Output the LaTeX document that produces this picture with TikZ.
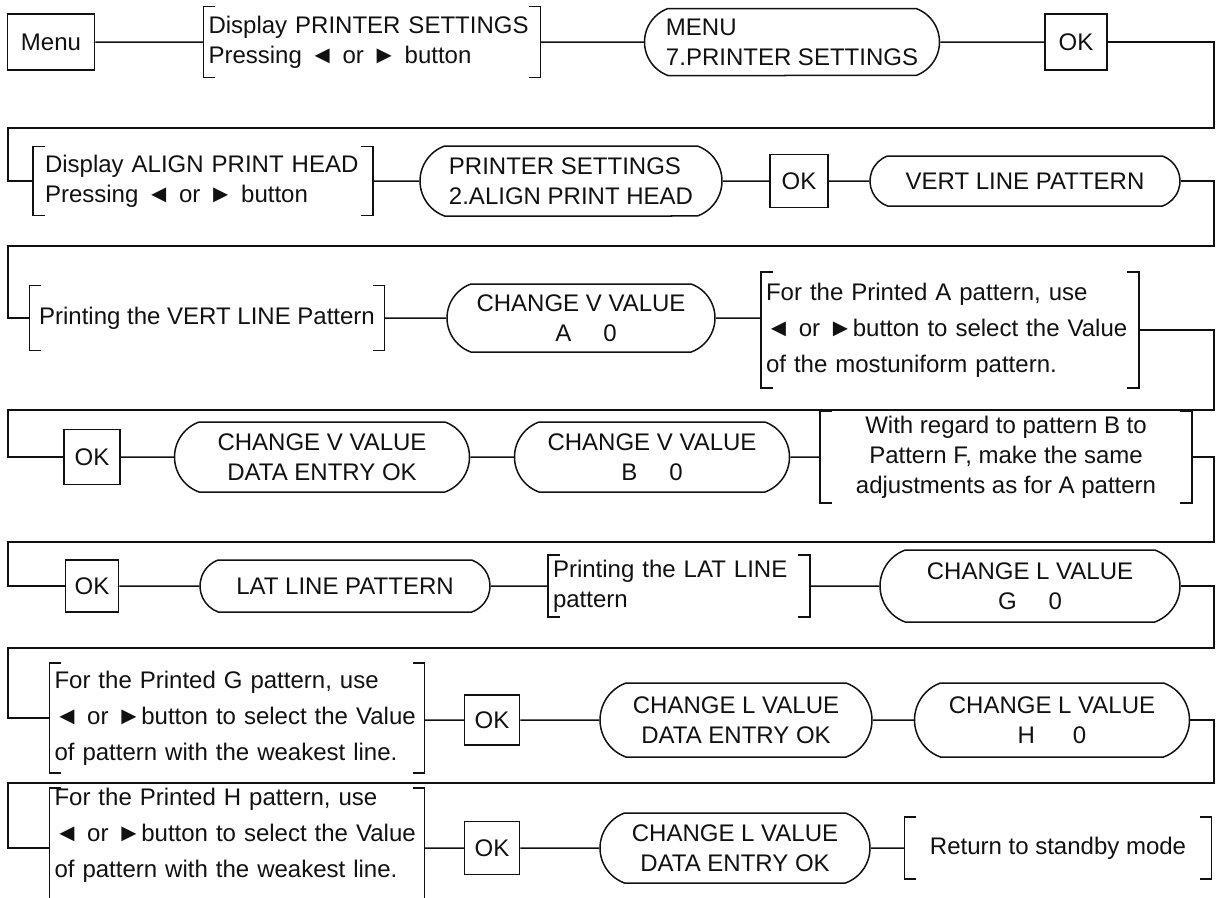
\documentclass[tikz,border=0pt]{standalone}
\usepackage{fontspec}
\setmainfont{Liberation Sans}
\usetikzlibrary{shapes.misc}
\definecolor{pmInk}{HTML}{111111}
\tikzset{
  pm text/.style={font=\fontsize{24}{30}\selectfont, text=pmInk},
  pm tall/.style={font=\fontsize{24}{36}\selectfont, text=pmInk},
  pm key/.style={draw=pmInk, line width=1.5pt, inner sep=0pt},
  pm screen/.style={rounded rectangle, rounded rectangle arc length=140, draw=pmInk, line width=1.5pt, inner sep=0pt, align=center},
  pm note/.style={inner xsep=5pt, inner ysep=0pt, align=left},
  pm bracket/.style={draw=pmInk, line width=1.5pt},
  pm link/.style={draw=pmInk, line width=1.5pt},
}
\newcommand{\pmL}{{\fontsize{25}{25}\selectfont ◄}}
\newcommand{\pmR}{{\fontsize{25}{25}\selectfont ►}}

\begin{document}
\begin{tikzpicture}[x=1pt,y=-1pt,every node/.style={pm text}]
  \useasboundingbox (0,0) rectangle (1220,897);
  % row 1
  \node[pm key,minimum width=87pt,minimum height=56pt] (menu) at (51,42) {Menu};
  \node[pm note,text width=327pt,minimum height=71pt] (dps) at (372,42) {Display PRINTER SETTINGS\\Pressing \pmL{} or \pmR{} button};
  \node[pm screen,align=left,minimum width=295pt,minimum height=67pt] (mps) at (792,42) {MENU\\7.PRINTER SETTINGS};
  \node[pm key,minimum width=62pt,minimum height=56pt] (ok1) at (1076,42) {OK};
  % row 2
  \node[pm note,inner xsep=12pt,text width=316pt,minimum height=69pt] (dap) at (203,181) {Display ALIGN PRINT HEAD\\Pressing \pmL{} or \pmR{} button};
  \node[pm screen,align=left,minimum width=302pt,minimum height=70pt] (pap) at (571,181) {PRINTER SETTINGS\\2.ALIGN PRINT HEAD};
  \node[pm key,minimum width=58pt,minimum height=53pt] (ok2) at (799,181) {OK};
  \node[pm screen,minimum width=310pt,minimum height=50pt] (vlp) at (1025,181) {VERT LINE PATTERN};
  % row 3
  \node[pm note,align=center,minimum width=355pt,minimum height=65pt] (pvl) at (207,318) {Printing the VERT LINE Pattern};
  \node[pm screen,minimum width=268pt,minimum height=68pt] (cva) at (581,318) {CHANGE V VALUE\\\hspace*{10pt}A\hspace{32pt}0};
  \node[pm note,pm tall,text width=368pt,minimum height=116pt] (sela) at (950,330) {For the Printed A pattern, use\\\pmL{} or \pmR{}button to select the Value\\of the mostuniform pattern.};
  % row 4
  \node[pm key,minimum width=56pt,minimum height=55pt] (ok3) at (92,457) {OK};
  \node[pm screen,minimum width=295pt,minimum height=70pt] (cvd) at (322,457) {CHANGE V VALUE\\DATA ENTRY OK};
  \node[pm screen,minimum width=275pt,minimum height=70pt] (cvb) at (652,457) {CHANGE V VALUE\\B\hspace{32pt}0};
  \node[pm note,align=center,minimum width=372pt,minimum height=92pt] (same) at (1006,457) {With regard to pattern B to\\Pattern F, make the same\\adjustments as for A pattern};
  % row 5
  \node[pm key,minimum width=53pt,minimum height=52pt] (ok4) at (92,586) {OK};
  \node[pm screen,minimum width=290pt,minimum height=52pt] (llp) at (345,586) {LAT LINE PATTERN};
  \node[pm note,text width=252pt,minimum height=62pt] (plat) at (679,586) {Printing the LAT LINE\\pattern};
  \node[pm screen,minimum width=300pt,minimum height=72pt] (cgl) at (1030,586) {CHANGE L VALUE\\G\hspace{32pt}0};
  % row 6
  \node[pm note,pm tall,text width=365pt,minimum height=110pt] (selg) at (237,718) {For the Printed G pattern, use\\\pmL{} or \pmR{}button to select the Value\\of pattern with the weakest line.};
  \node[pm key,minimum width=55pt,minimum height=50pt] (ok5) at (492,720) {OK};
  \node[pm screen,minimum width=272pt,minimum height=74pt] (cld1) at (736,720) {CHANGE L VALUE\\DATA ENTRY OK};
  \node[pm screen,minimum width=275pt,minimum height=74pt] (clh) at (1052,720) {CHANGE L VALUE\\H\hspace{38pt}0};
  % row 7
  \node[pm note,pm tall,anchor=north,text width=365pt] (selh) at (237,788) {For the Printed H pattern, use\\\pmL{} or \pmR{}button to select the Value\\of pattern with the weakest line.\\\mbox{}};
  \node[pm key,minimum width=55pt,minimum height=53pt] (ok6) at (492,848) {OK};
  \node[pm screen,minimum width=270pt,minimum height=70pt] (cld2) at (735,848) {CHANGE L VALUE\\DATA ENTRY OK};
  \node[pm note,align=center,minimum width=307pt,minimum height=62pt] (ret) at (1058,848) {Return to standby mode};
  \foreach \n in {dps,dap,pvl,sela,same,plat,selg,selh,ret}{
    \draw[pm bracket] ([xshift=12pt]\n.north west) -| (\n.south west) -- ++(12pt,0);
    \draw[pm bracket] ([xshift=-12pt]\n.north east) -| (\n.south east) -- ++(-12pt,0);
  }
  % turn points
  \foreach \r/\y in {1/128,2/246,3/410,4/542,5/648,6/783}{
    \coordinate (r\r) at (1214,\y);
    \coordinate (l\r) at (8,\y);
  }
  \draw[pm link] (menu) -- (dps) -- (mps) -- (ok1);
  \draw[pm link] (ok1.east) -| (r1) -- (l1) |- (dap.west);
  \draw[pm link] (dap) -- (pap) -- (ok2) -- (vlp);
  \draw[pm link] (vlp.east) -| (r2) -- (l2) |- (pvl.west);
  \draw[pm link] (pvl) -- (cva) -- (cva -| sela.west);
  \draw[pm link] (sela.east) -| (r3) -- (l3) |- (ok3.west);
  \draw[pm link] (ok3) -- (cvd) -- (cvb) -- (same);
  \draw[pm link] (same.east) -| (r4) -- (l4) |- (ok4.west);
  \draw[pm link] (ok4) -- (llp) -- (plat) -- (cgl);
  \draw[pm link] (cgl.east) -| (r5) -- (l5) |- (selg.west);
  \draw[pm link] (selg.east |- ok5) -- (ok5) -- (cld1) -- (clh);
  \draw[pm link] (clh.east) -| (r6) -- (l6) |- (ok6 -| selh.west);
  \draw[pm link] (ok6 -| selh.east) -- (ok6) -- (cld2) -- (ret);
\end{tikzpicture}
\end{document}
